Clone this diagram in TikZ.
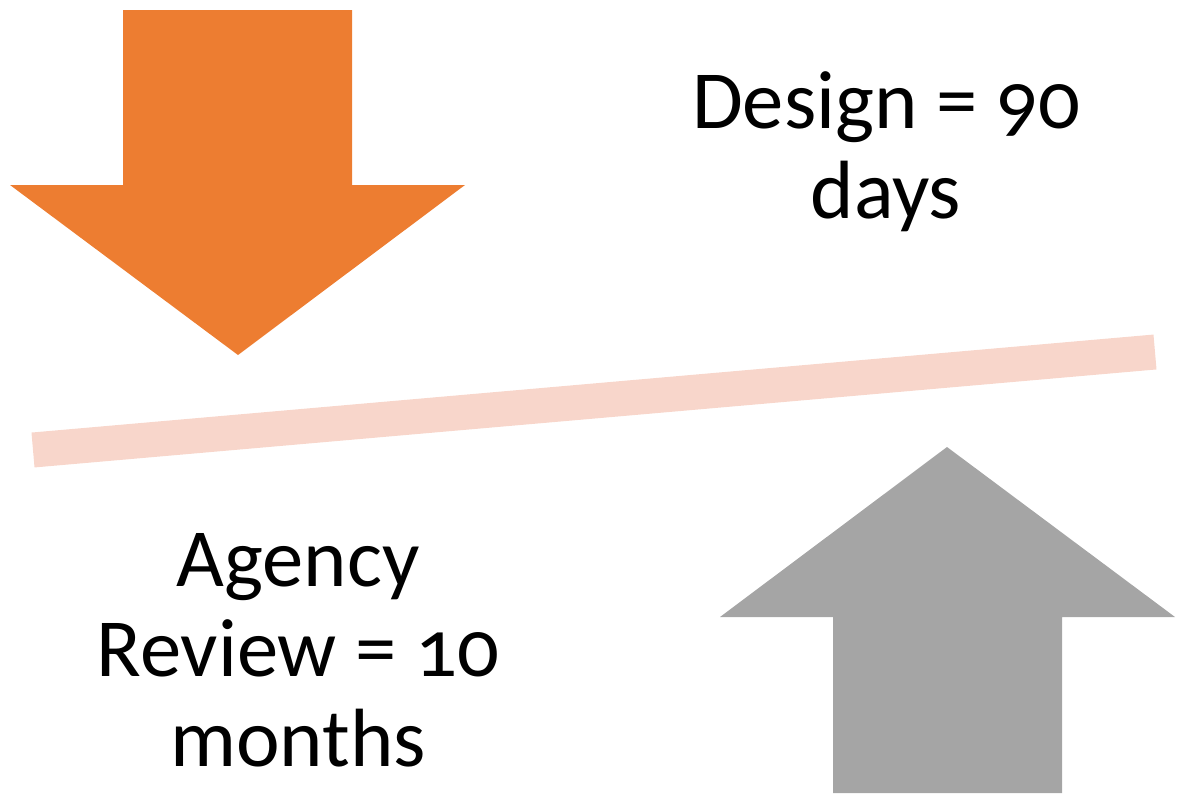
\documentclass[tikz,border=0pt]{standalone}
\usepackage{fontspec}
\setmainfont{Carlito}[Numbers=OldStyle]
\definecolor{orangearrow}{HTML}{ED7D31}
\definecolor{grayarrow}{HTML}{A5A5A5}
\definecolor{peachbar}{HTML}{F8D6CB}
\tikzset{
  label text/.style={align=center, font=\fontsize{23.5}{25.6}\selectfont},
}
\begin{document}
\begin{tikzpicture}[x=0.01cm, y=-0.01cm]
  \useasboundingbox (0,0) rectangle (1178,800);
  % down arrow
  \fill[orangearrow] (123,10) -- (352,10) -- (352,185) -- (465,185)
    -- (238,355) -- (10,185) -- (123,185) -- cycle;
  % balance bar
  \coordinate (barleft) at (33,450);
  \coordinate (barright) at (1155,352);
  \draw[peachbar, line width=0.35cm] (barleft) -- (barright);
  % up arrow
  \fill[grayarrow] (947,447) -- (1175,617) -- (1062,617) -- (1062,793)
    -- (833,793) -- (833,617) -- (720,617) -- cycle;
  \node[label text] (design) at (886,152) {Design = 90\\days};
  \node[label text] (review) at (298,650) {Agency\\Review = 10\\months};
\end{tikzpicture}
\end{document}
